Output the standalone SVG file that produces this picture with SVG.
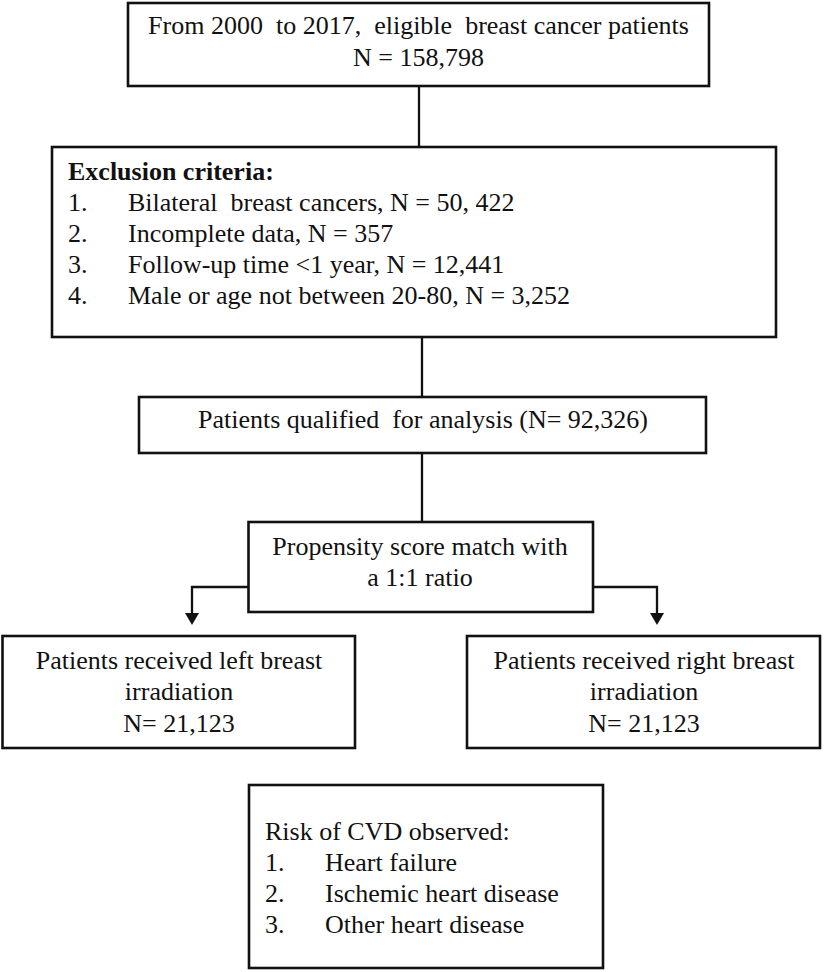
<svg xmlns="http://www.w3.org/2000/svg" width="824" height="972" viewBox="0 0 824 972">
<style>
.box{fill:#fff;stroke:#111;stroke-width:2.6}
.t{font-family:"Liberation Serif","Times New Roman",serif;font-size:26px;fill:#111}
.c{text-anchor:middle}
.b{font-weight:bold}
.ln{fill:none;stroke:#111;stroke-width:2.3}
</style>
<defs>
<marker id="ah" markerWidth="12" markerHeight="14" refX="0" refY="7" orient="auto" markerUnits="userSpaceOnUse" viewBox="0 0 12 14">
<path d="M0,0 L12,7 L0,14 Z" fill="#111"/>
</marker>
</defs>
<rect width="824" height="972" fill="#fff"/>
<g id="connectors">
<line class="ln" x1="419" y1="86" x2="419" y2="147"/>
<line class="ln" x1="422" y1="337" x2="422" y2="397"/>
<line class="ln" x1="422" y1="453" x2="422" y2="522"/>
<path class="ln" d="M248,587 H192 V613" marker-end="url(#ah)"/>
<path class="ln" d="M593,587 H657 V613" marker-end="url(#ah)"/>
</g>
<g id="n1">
<rect class="box" x="128" y="3" width="581" height="83"/>
<text class="t c" x="418.5" y="34" xml:space="preserve">From 2000  to 2017,  eligible  breast cancer patients</text>
<text class="t c" x="418.5" y="66">N = 158,798</text>
</g>
<g id="n2">
<rect class="box" x="52" y="147" width="724" height="190"/>
<text class="t b" x="68" y="180">Exclusion criteria:</text>
<text class="t" x="68" y="211">1.</text><text class="t" x="128" y="211" xml:space="preserve">Bilateral  breast cancers, N = 50, 422</text>
<text class="t" x="68" y="242">2.</text><text class="t" x="128" y="242">Incomplete data, N = 357</text>
<text class="t" x="68" y="273">3.</text><text class="t" x="128" y="273">Follow-up time &lt;1 year, N = 12,441</text>
<text class="t" x="68" y="304">4.</text><text class="t" x="128" y="304">Male or age not between 20-80, N = 3,252</text>
</g>
<g id="n3">
<rect class="box" x="139" y="397" width="567" height="56"/>
<text class="t c" x="423" y="428" xml:space="preserve">Patients qualified  for analysis (N= 92,326)</text>
</g>
<g id="n4">
<rect class="box" x="248.5" y="522" width="344.5" height="90"/>
<text class="t c" x="420" y="555">Propensity score match with</text>
<text class="t c" x="420" y="586">a 1:1 ratio</text>
</g>
<g id="n5">
<rect class="box" x="2.5" y="636" width="352.5" height="112"/>
<text class="t c" x="179" y="669">Patients received left breast</text>
<text class="t c" x="179" y="700">irradiation</text>
<text class="t c" x="179" y="732">N= 21,123</text>
</g>
<g id="n6">
<rect class="box" x="467" y="636" width="353" height="112"/>
<text class="t c" x="644" y="669">Patients received right breast</text>
<text class="t c" x="644" y="700">irradiation</text>
<text class="t c" x="644" y="732">N= 21,123</text>
</g>
<g id="n7">
<rect class="box" x="249" y="785" width="354" height="183"/>
<text class="t" x="265" y="840">Risk of CVD observed:</text>
<text class="t" x="265" y="871">1.</text><text class="t" x="325" y="871">Heart failure</text>
<text class="t" x="265" y="902">2.</text><text class="t" x="325" y="902">Ischemic heart disease</text>
<text class="t" x="265" y="933">3.</text><text class="t" x="325" y="933">Other heart disease</text>
</g>
</svg>
